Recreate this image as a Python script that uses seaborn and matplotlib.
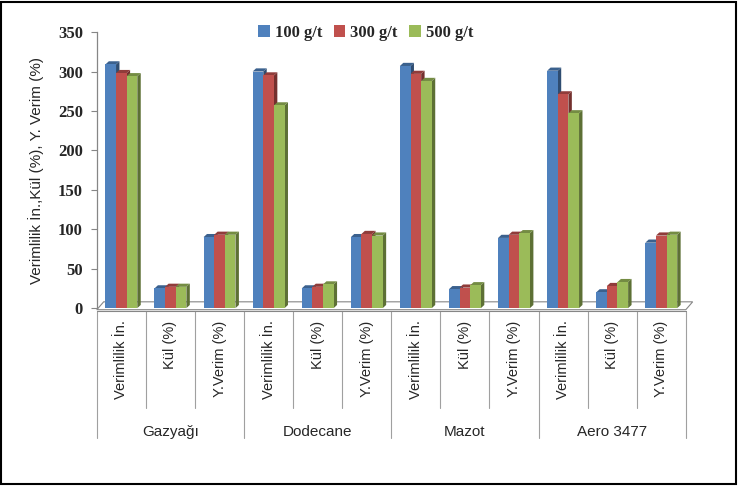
"""
3D-style clustered columns: collector dose vs. yield index, ash and yield
"""

import pandas as pd
import matplotlib.pyplot as plt
import seaborn as sns
from matplotlib.patches import Polygon, Patch, Rectangle
from matplotlib.colors import to_rgb
import matplotlib.transforms as mtransforms

sns.set_style("white")

GROUPS = ["Gazyağı", "Dodecane", "Mazot", "Aero 3477"]
MEASURES = ["Verimlilik İn.", "Kül (%)", "Y.Verim (%)"]
DOSES = ["100 g/t", "300 g/t", "500 g/t"]

dose_100 = [309, 25, 90, 300, 25, 90, 307, 24, 89, 301, 20, 83]
dose_300 = [298, 27, 93, 295, 27, 94, 297, 26, 93, 271, 28, 92]
dose_500 = [294, 27, 93, 257, 30, 92, 288, 29, 95, 247, 33, 93]

COLORS = ["#4F81BD", "#C0504D", "#9BBB59"]
GRID_GRAY = "#868686"


def shade(c, f):
    r, g, b = to_rgb(c)
    return (r * f, g * f, b * f)


def build_frame():
    cats = [f"{g}|{m}" for g in GROUPS for m in MEASURES]
    rows = []
    for dose, vals in zip(DOSES, [dose_100, dose_300, dose_500]):
        for cat, v in zip(cats, vals):
            rows.append({"cat": cat, "dose": dose, "value": v})
    return pd.DataFrame(rows), cats


def main():
    df, cats = build_frame()

    fig = plt.figure(figsize=(7.39, 4.86), dpi=100)
    ax = fig.add_axes([0.131, 0.366, 0.797, 0.568])

    sns.barplot(data=df, x="cat", y="value", hue="dose", order=cats,
                hue_order=DOSES, palette=COLORS, saturation=1, width=0.65,
                legend=False, ax=ax, zorder=3, linewidth=0)

    ax.set_ylim(0, 350)
    ax.set_xlim(-0.5, len(cats) - 0.5)
    ax.set_yticks(range(0, 351, 50))

    # fake 3D: side and top faces behind each front face
    dx, dy = 0.07, 4.0
    for bar in ax.patches:
        x, w, h = bar.get_x(), bar.get_width(), bar.get_height()
        col = bar.get_facecolor()
        side = Polygon([(x + w, 0), (x + w + dx, dy), (x + w + dx, h + dy), (x + w, h)],
                       closed=True, facecolor=shade(col, 0.6), edgecolor="none", zorder=2)
        top = Polygon([(x, h), (x + dx, h + dy), (x + w + dx, h + dy), (x + w, h)],
                      closed=True, facecolor=shade(col, 0.75), edgecolor="none", zorder=2)
        ax.add_patch(side)
        ax.add_patch(top)

    # floor
    x0, x1 = -0.5, len(cats) - 0.5
    floor = Polygon([(x0, -2), (x0 + 2 * dx, 2 * dy), (x1 + 2 * dx, 2 * dy), (x1, -2)],
                    closed=True, fill=False, edgecolor=GRID_GRAY, lw=0.8,
                    clip_on=False, zorder=1)
    ax.add_patch(floor)

    for s in ["top", "right", "bottom"]:
        ax.spines[s].set_visible(False)
    ax.spines["left"].set_color(GRID_GRAY)
    ax.spines["left"].set_linewidth(0.9)

    ax.tick_params(axis="y", length=4, color=GRID_GRAY, width=0.8, pad=6, left=True)
    for lab in ax.get_yticklabels():
        lab.set_fontfamily("Liberation Serif")
        lab.set_fontweight("bold")
        lab.set_fontsize(12)

    ax.set_xticks(range(len(cats)))
    ax.set_xticklabels(MEASURES * len(GROUPS), rotation=90, va="top",
                       fontsize=10.5, fontfamily="Liberation Sans")
    ax.tick_params(axis="x", length=0, pad=9)
    ax.set_xlabel("")
    ax.set_ylabel("Verimlilik İn.,Kül (%), Y. Verim (%)", fontsize=11,
                  fontfamily="Liberation Sans", labelpad=10)

    # category dividers below the axis
    trans = mtransforms.blended_transform_factory(ax.transData, ax.transAxes)
    for i in range(len(cats) + 1):
        bottom = -0.47 if i % 3 == 0 else -0.36
        ax.plot([i - 0.5, i - 0.5], [-0.01, bottom], color="#A0A0A0", lw=0.8,
                transform=trans, clip_on=False)
    ax.plot([x0, x1], [-0.01, -0.01], color=GRID_GRAY, lw=0.8,
            transform=trans, clip_on=False)
    for gi, g in enumerate(GROUPS):
        ax.text(gi * 3 + 1, -0.45, g, transform=trans, ha="center", va="center",
                fontsize=11, fontfamily="Liberation Sans")

    handles = [Patch(facecolor=c, edgecolor="none") for c in COLORS]
    fig.legend(handles, DOSES, loc="center", bbox_to_anchor=(0.495, 0.932), ncol=3,
               frameon=False, handlelength=0.7, handleheight=0.7, handletextpad=0.3,
               columnspacing=0.7, prop={"family": "Liberation Serif", "weight": "bold", "size": 12})

    fig.add_artist(Rectangle((0.002, 0.004), 0.994, 0.992, transform=fig.transFigure,
                             fill=False, edgecolor="black", lw=1.5))

    fig.savefig("out.png", dpi=100)


if __name__ == "__main__":
    main()
